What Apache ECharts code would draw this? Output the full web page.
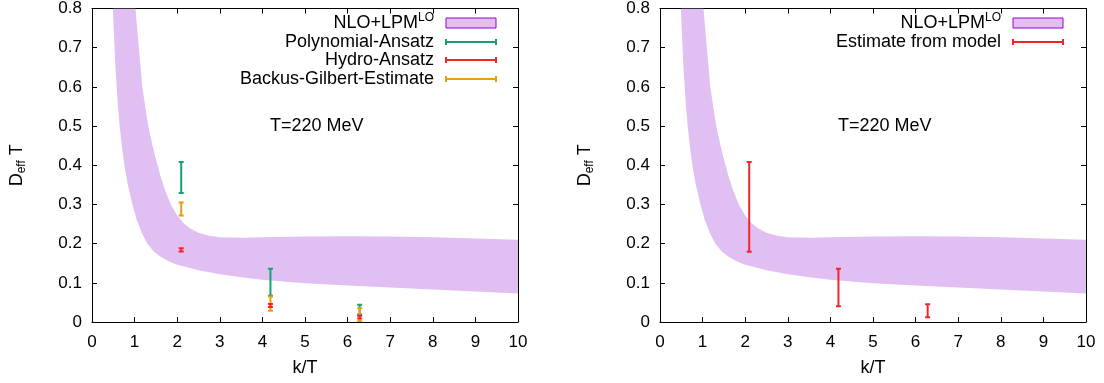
<!DOCTYPE html>
<html>
<head>
<meta charset="utf-8">
<script src="https://cdn.jsdelivr.net/npm/echarts@6/dist/echarts.min.js"></script>
<style>
html,body{margin:0;padding:0;background:#fff;}
#c{width:1104px;height:383px;}
</style>
</head>
<body>
<div id="c"></div>
<script>
// ---- data ----
var xTicks = [0,1,2,3,4,5,6,7,8,9,10];
var yTicks = [0,0.1,0.2,0.3,0.4,0.5,0.6,0.7,0.8];
// NLO+LPM^LO band: upper edge [k, D*T], lower edge [k, D*T]
var bandUpper = [[1.02,0.80],[1.06,0.75],[1.10,0.70],[1.14,0.65],[1.18,0.60],[1.25,0.55],[1.32,0.50],[1.40,0.46],[1.49,0.42],[1.60,0.375],[1.72,0.335],[1.85,0.30],[2.0,0.272],[2.15,0.252],[2.3,0.239],[2.5,0.228],[2.75,0.220],[3.0,0.216],[3.5,0.215],[4.0,0.216],[5.0,0.218],[6.0,0.219],[7.0,0.218],[8.0,0.216],[9.0,0.213],[10.0,0.210]];
var bandLower = [[0.49,0.80],[0.51,0.75],[0.53,0.70],[0.55,0.65],[0.58,0.60],[0.61,0.55],[0.65,0.50],[0.70,0.45],[0.76,0.40],[0.84,0.35],[0.95,0.30],[1.05,0.26],[1.17,0.227],[1.30,0.20],[1.45,0.18],[1.60,0.167],[1.80,0.155],[2.0,0.146],[2.5,0.132],[3.0,0.122],[3.5,0.114],[4.0,0.108],[5.0,0.099],[6.0,0.093],[7.0,0.088],[8.0,0.083],[9.0,0.078],[10.0,0.073]];
// error bars [k, low, high]
var polyAnsatz = [[2.094,0.329,0.408],[4.189,0.067,0.136],[6.283,0.019,0.044]];
var hydroAnsatz = [[2.094,0.180,0.188],[4.189,0.038,0.046],[6.283,0.009,0.016]];
var backusGilbert = [[2.094,0.272,0.305],[4.189,0.029,0.065],[6.283,0.002,0.035]];
var modelEstimate = [[2.094,0.179,0.408],[4.189,0.040,0.136],[6.283,0.012,0.045]];

var FONT = 'Liberation Sans, Arial, Helvetica, sans-serif';
var BAND = '#e2bff2';
var C_POLY = '#1a9e77', C_HYDRO = '#f0262a', C_BG = '#e6a010', C_BORDER = '#9400d3';

var chart = echarts.init(document.getElementById('c'), null, {renderer:'canvas'});

function xAx(gi, top){
  return {type:'value', gridIndex:gi, position: top?'top':'bottom', min:0, max:10, interval:1,
    axisLine:{show:true, onZero:false, lineStyle:{color:'#000', width:1}},
    axisTick:{show:true, inside:true, length:5, lineStyle:{color:'#000'}},
    axisLabel:{show:!top, margin:12, color:'#000', fontSize:17, fontFamily:FONT},
    splitLine:{show:false},
    name: top?'':'k/T', nameLocation:'middle', nameGap:37,
    nameTextStyle:{color:'#000', fontSize:18, fontFamily:FONT}};
}
function yAx(gi, right){
  return {type:'value', gridIndex:gi, position: right?'right':'left', min:0, max:0.8, interval:0.1,
    axisLine:{show:true, onZero:false, lineStyle:{color:'#000', width:1}},
    axisTick:{show:true, inside:true, length:5, lineStyle:{color:'#000'}},
    axisLabel:{show:!right, margin:10, color:'#000', fontSize:17, fontFamily:FONT,
      formatter:function(v){return String(Math.round(v*10)/10);}},
    splitLine:{show:false},
    name: right?'':'{m|D}{s|eff}{m| T}', nameLocation:'middle', nameGap:64, nameRotate:90,
    nameTextStyle:{color:'#000', fontFamily:FONT,
      rich:{m:{fontSize:18, lineHeight:22, fontFamily:FONT, color:'#000'},
            s:{fontSize:12, lineHeight:12, verticalAlign:'bottom', fontFamily:FONT, color:'#000'}}}};
}

function bandSeries(xi, yi){
  return {type:'custom', xAxisIndex:xi, yAxisIndex:yi, clip:true, silent:true,
    data:[[0,0]],
    renderItem:function(params, api){
      var pts = [];
      for (var i=0;i<bandUpper.length;i++) pts.push(api.coord(bandUpper[i]));
      for (var j=bandLower.length-1;j>=0;j--) pts.push(api.coord(bandLower[j]));
      return {type:'polygon', shape:{points:pts}, style:{fill:BAND, stroke:null}};
    }, z:1};
}
function errSeries(xi, yi, arr, color){
  return {type:'custom', xAxisIndex:xi, yAxisIndex:yi, clip:true, silent:true,
    data: arr,
    encode:{x:0, y:[1,2]},
    renderItem:function(params, api){
      var lo = api.coord([api.value(0), api.value(1)]);
      var hi = api.coord([api.value(0), api.value(2)]);
      var w = 2.5;
      var st = {stroke:color, lineWidth:2};
      return {type:'group', children:[
        {type:'line', shape:{x1:lo[0], y1:lo[1], x2:hi[0], y2:hi[1]}, style:st},
        {type:'line', shape:{x1:lo[0]-w, y1:lo[1], x2:lo[0]+w, y2:lo[1]}, style:st},
        {type:'line', shape:{x1:hi[0]-w, y1:hi[1], x2:hi[0]+w, y2:hi[1]}, style:st}
      ]};
    }, z:3};
}

function legendBand(xr, y){
  return [
    {type:'text', x:xr, y:y, style:{text:'{m|NLO+LPM}{s|LO}', align:'right', verticalAlign:'middle', fill:'#000',
      rich:{m:{fontSize:18, lineHeight:22, fontFamily:FONT, fill:'#000'}, s:{fontSize:12, lineHeight:12, verticalAlign:'top', fontFamily:FONT, fill:'#000'}}}},
    {type:'rect', shape:{x:xr+12, y:y-5, width:50, height:10}, style:{fill:BAND, stroke:C_BORDER, lineWidth:1}}
  ];
}
function legendErr(xr, y, label, color){
  var x0 = xr+12, x1 = xr+62;
  var st = {stroke:color, lineWidth:2};
  return [
    {type:'text', x:xr, y:y, style:{text:label, align:'right', verticalAlign:'middle', fill:'#000', fontSize:18, fontFamily:FONT}},
    {type:'line', shape:{x1:x0, y1:y, x2:x1, y2:y}, style:st},
    {type:'line', shape:{x1:x0, y1:y-3, x2:x0, y2:y+3}, style:st},
    {type:'line', shape:{x1:x1, y1:y-3, x2:x1, y2:y+3}, style:st}
  ];
}

var graphics = [];
graphics = graphics.concat(legendBand(434, 23));
graphics = graphics.concat(legendErr(434, 42, 'Polynomial-Ansatz', C_POLY));
graphics = graphics.concat(legendErr(434, 60, 'Hydro-Ansatz', C_HYDRO));
graphics = graphics.concat(legendErr(434, 79, 'Backus-Gilbert-Estimate', C_BG));
graphics = graphics.concat(legendBand(1001, 23));
graphics = graphics.concat(legendErr(1001, 42, 'Estimate from model', C_HYDRO));
graphics.push({type:'text', x:270, y:126, style:{text:'T=220 MeV', align:'left', verticalAlign:'middle', fill:'#000', fontSize:18, fontFamily:FONT}});
graphics.push({type:'text', x:838, y:126, style:{text:'T=220 MeV', align:'left', verticalAlign:'middle', fill:'#000', fontSize:18, fontFamily:FONT}});
graphics.forEach(function(g){ g.z = 10; });

var option = {
  animation:false,
  backgroundColor:'#fff',
  grid:[
    {left:92, top:8, width:426, height:314, containLabel:false},
    {left:660, top:8, width:426, height:314, containLabel:false}
  ],
  xAxis:[xAx(0,false), xAx(0,true), xAx(1,false), xAx(1,true)],
  yAxis:[yAx(0,false), yAx(0,true), yAx(1,false), yAx(1,true)],
  series:[
    bandSeries(0,0),
    errSeries(0,0,polyAnsatz,C_POLY),
    errSeries(0,0,backusGilbert,C_BG),
    errSeries(0,0,hydroAnsatz,C_HYDRO),
    bandSeries(2,2),
    errSeries(2,2,modelEstimate,C_HYDRO)
  ],
  graphic:{elements:graphics}
};
chart.setOption(option);
</script>
</body>
</html>
